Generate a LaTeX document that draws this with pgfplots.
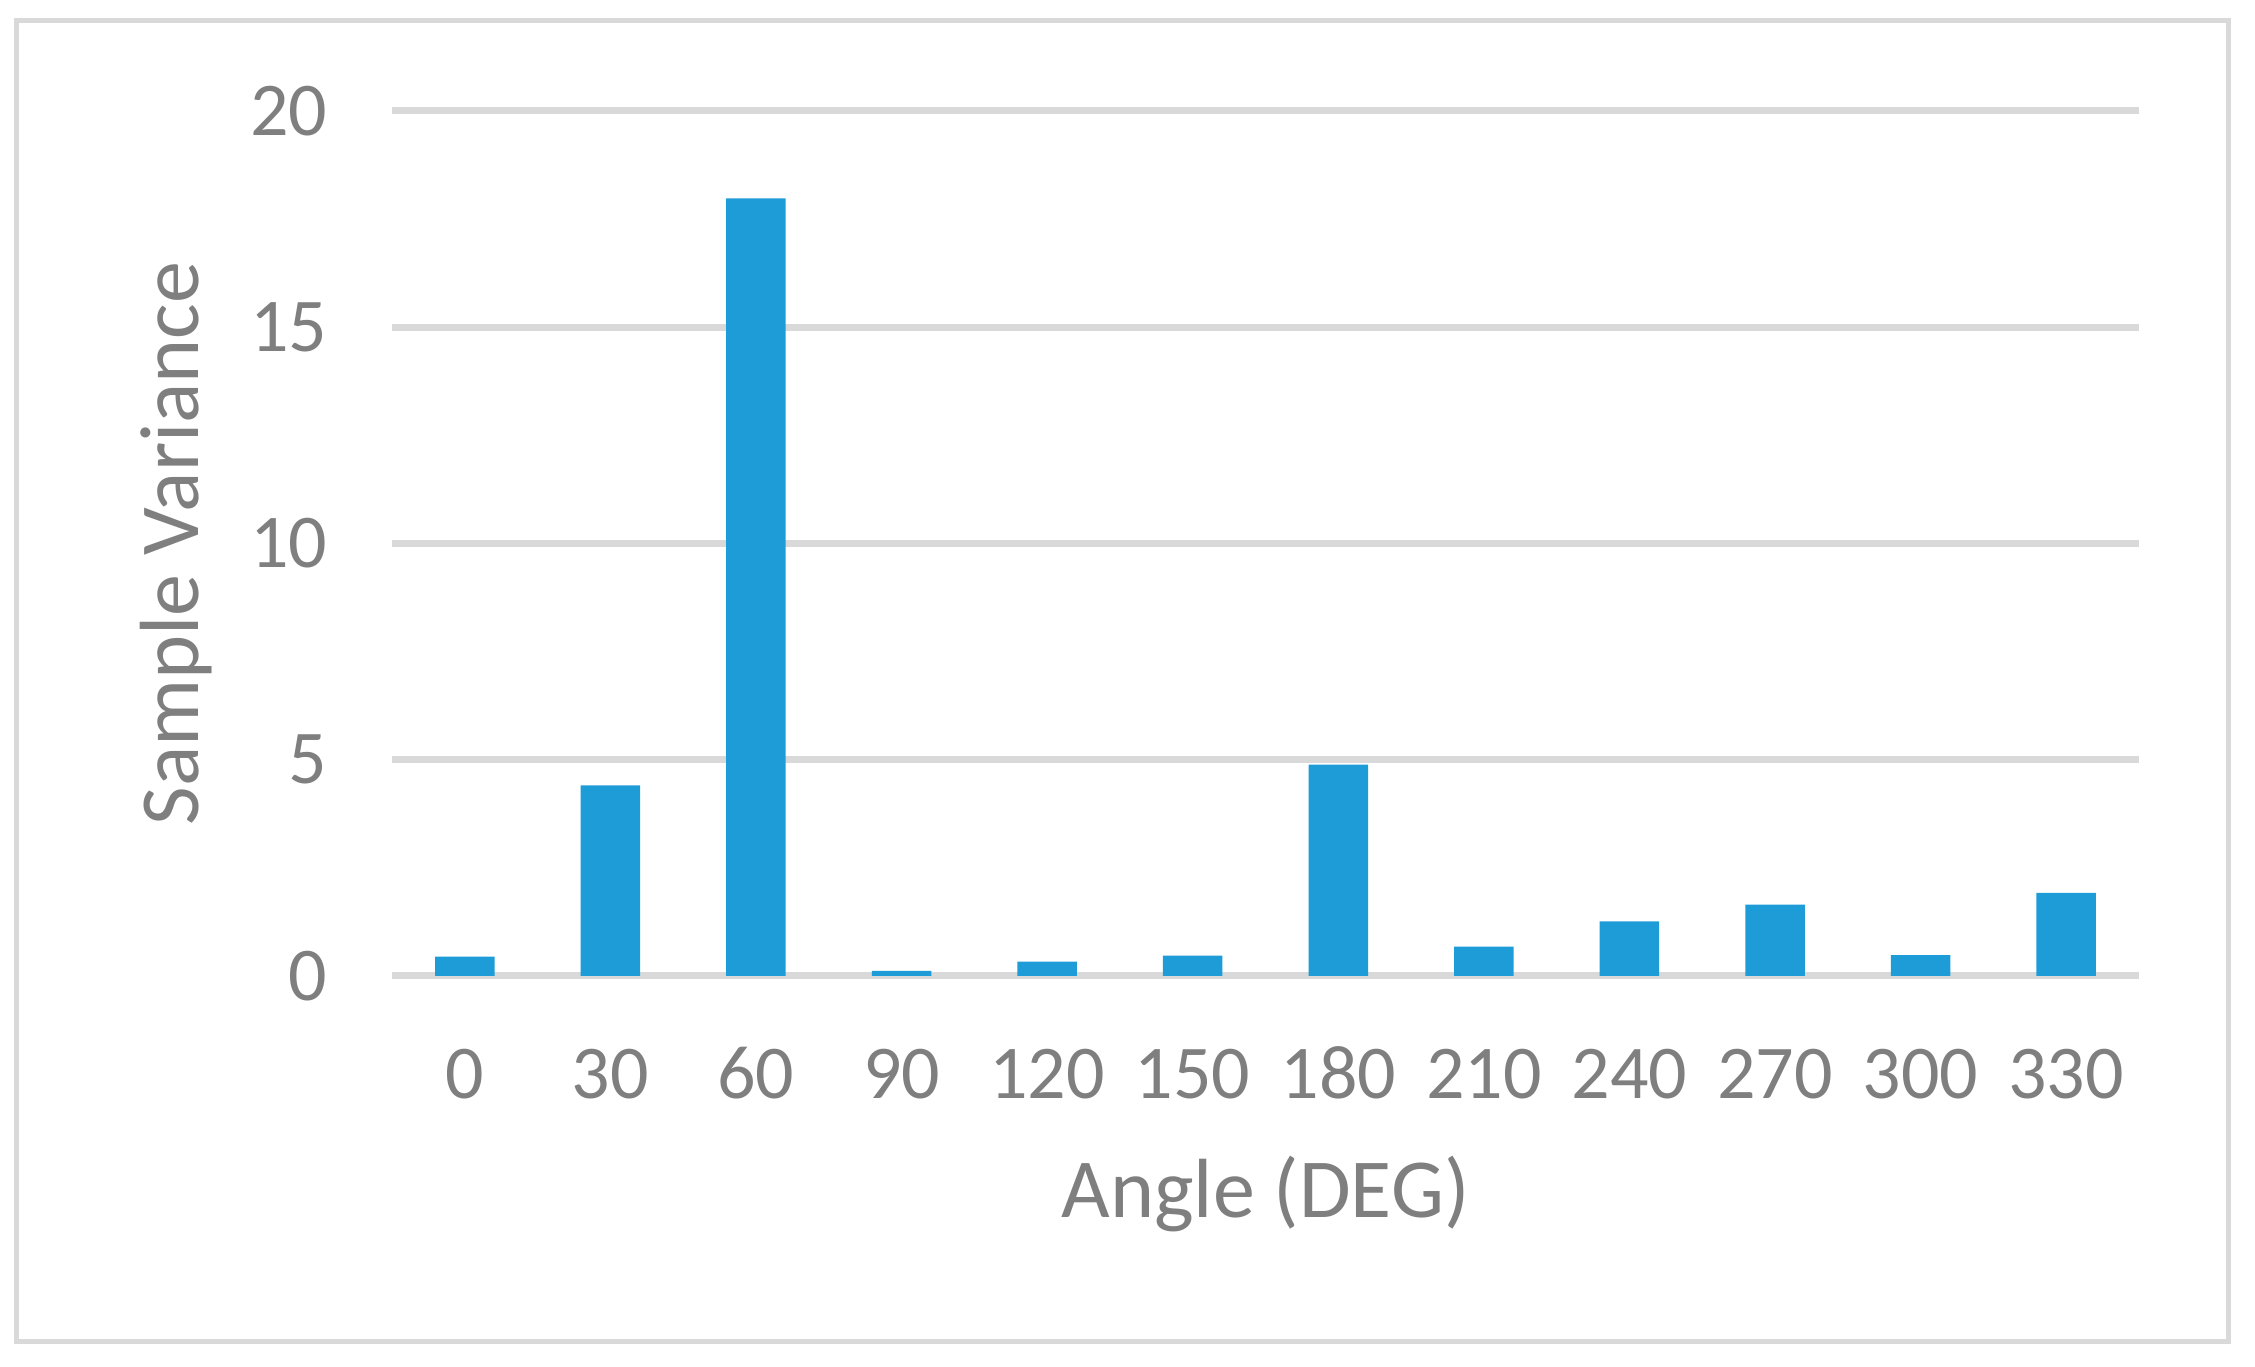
\documentclass[border=0pt]{standalone}
\usepackage{fontspec}
\setmainfont{Carlito}
\usepackage{pgfplots}
\pgfplotsset{compat=1.18}
\definecolor{barblue}{HTML}{1E9CD8}
\definecolor{gridgray}{HTML}{D9D9D9}
\definecolor{textgray}{HTML}{7F7F7F}
\begin{document}
\begin{tikzpicture}
% canvas 2255x1367 px at 0.2pt per px
\path (0,0) rectangle (451pt,273.4pt);
\draw[gridgray, line width=1pt] (3.4pt,5pt) rectangle (445.6pt,269.2pt);
\begin{axis}[
    at={(78.4pt,78.2pt)},
    anchor=south west,
    scale only axis,
    width=349.4pt,
    height=173pt,
    ybar,
    bar width=11.9pt,
    xmin=-0.5, xmax=11.5,
    ymin=0, ymax=20,
    xtick=data,
    xticklabels={0,30,60,90,120,150,180,210,240,270,300,330},
    ytick={0,5,10,15,20},
    axis line style={draw=none},
    major tick length=0pt,
    ymajorgrids,
    grid style={gridgray, line width=1.4pt},
    tick label style={font=\fontsize{15.2}{18}\selectfont, text=textgray},
    /pgf/number format/assume math mode=true,
    xticklabel style={anchor=base, yshift=-24.6pt},
    yticklabel style={xshift=-9.4pt},
    label style={font=\fontsize{16.8}{20}\selectfont, text=textgray},
    xlabel={Angle (DEG)},
    ylabel={Sample Variance},
    xlabel style={at={([yshift=-43.6pt]axis description cs:0.5,0)}, anchor=center},
    ylabel style={at={([xshift=-43.2pt]axis description cs:0,0.5)}, anchor=center},
]
\addplot[draw=none, fill=barblue] coordinates {
    (0,0.45) (1,4.41) (2,17.98) (3,0.12) (4,0.33) (5,0.47)
    (6,4.89) (7,0.68) (8,1.26) (9,1.65) (10,0.48) (11,1.92)
};
\end{axis}
\end{tikzpicture}
\end{document}
